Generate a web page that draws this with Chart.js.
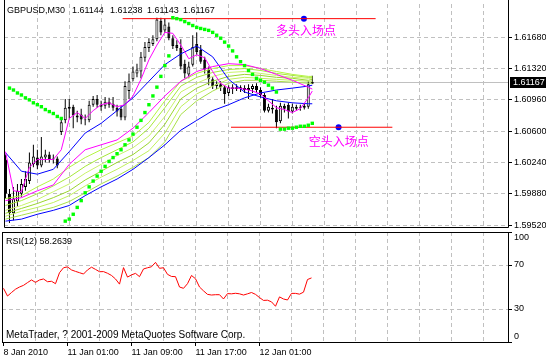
<!DOCTYPE html>
<html lang="en">
<head>
    <meta charset="UTF-8">
    <title>GBPUSD M30</title>
    <script src="https://cdn.jsdelivr.net/npm/chart.js@4.4.0/dist/chart.umd.min.js"></script>
    <style>
        html, body { margin: 0; padding: 0; background: #fff; }
        #wrap { position: relative; width: 546px; height: 360px; overflow: hidden; }
        #main { position: absolute; left: 0; top: 0; }
        #rsi { position: absolute; left: 0; top: 230px; }
    </style>
</head>
<body>
<div id="wrap">
    <canvas id="main" width="546" height="231"></canvas>
    <canvas id="rsi" width="546" height="130"></canvas>
</div>
<script>
// ---- price bars (M30), bar 0 = 8 Jan 2010 ----
const opens = [1.60274, 1.59880, 1.59655, 1.59790, 1.59880, 1.59959, 1.60026, 1.60218, 1.60296, 1.60206,
    1.60296, 1.60330, 1.60274, 1.60285, 1.60589, 1.60724, 1.60859, 1.60881, 1.60780, 1.60791,
    1.60735, 1.60724, 1.60904, 1.60971, 1.60904, 1.60893, 1.60938, 1.60915, 1.60870, 1.60859,
    1.60758, 1.61061, 1.61196, 1.61264, 1.61286, 1.61444, 1.61556, 1.61601, 1.61658, 1.61871,
    1.61759, 1.61804, 1.61669, 1.61590, 1.61556, 1.61376, 1.61253, 1.61365, 1.61601, 1.61534,
    1.61421, 1.61309, 1.61196, 1.61118, 1.61140, 1.61106, 1.61039, 1.61106, 1.61084, 1.61106,
    1.61095, 1.61073, 1.61084, 1.61118, 1.61073, 1.61016, 1.60836, 1.60870, 1.60848, 1.60713,
    1.60893, 1.60904, 1.60825, 1.60859, 1.60881, 1.60870, 1.60881, 1.61144];
const highs = [1.60330, 1.59936, 1.59959, 1.59993, 1.60049, 1.60139, 1.60353, 1.60443, 1.60386, 1.60533,
    1.60386, 1.60364, 1.60330, 1.60308, 1.60746, 1.60971, 1.60971, 1.60904, 1.60836, 1.60859,
    1.60791, 1.60949, 1.61005, 1.61016, 1.60949, 1.60994, 1.60983, 1.60994, 1.60904, 1.60893,
    1.61174, 1.61264, 1.61343, 1.61376, 1.61511, 1.61624, 1.61669, 1.61703, 1.61905, 1.61905,
    1.61894, 1.61849, 1.61703, 1.61646, 1.61658, 1.61421, 1.61399, 1.61703, 1.61736, 1.61590,
    1.61455, 1.61343, 1.61219, 1.61174, 1.61174, 1.61129, 1.61129, 1.61140, 1.61140, 1.61129,
    1.61129, 1.61140, 1.61140, 1.61151, 1.61106, 1.61039, 1.60915, 1.60971, 1.60893, 1.60926,
    1.60915, 1.60926, 1.60915, 1.60904, 1.60904, 1.60915, 1.61174, 1.61238];
const lows = [1.59824, 1.59543, 1.59576, 1.59734, 1.59846, 1.59914, 1.59993, 1.60184, 1.60161, 1.60184,
    1.60240, 1.60240, 1.60229, 1.60173, 1.60555, 1.60690, 1.60746, 1.60634, 1.60701, 1.60679,
    1.60668, 1.60701, 1.60881, 1.60870, 1.60836, 1.60859, 1.60870, 1.60836, 1.60769, 1.60724,
    1.60724, 1.60971, 1.61174, 1.61219, 1.61208, 1.61399, 1.61511, 1.61579, 1.61635, 1.61703,
    1.61736, 1.61646, 1.61545, 1.61523, 1.61309, 1.61208, 1.61208, 1.61343, 1.61478, 1.61376,
    1.61264, 1.61129, 1.61084, 1.61084, 1.61061, 1.60915, 1.61005, 1.61028, 1.61061, 1.61050,
    1.61039, 1.60971, 1.61039, 1.61039, 1.60983, 1.60814, 1.60814, 1.60803, 1.60634, 1.60690,
    1.60814, 1.60746, 1.60803, 1.60836, 1.60836, 1.60848, 1.60859, 1.61143];
const closes = [1.59880, 1.59655, 1.59824, 1.59914, 1.59993, 1.60049, 1.60240, 1.60308, 1.60206, 1.60308,
    1.60330, 1.60274, 1.60285, 1.60206, 1.60701, 1.60870, 1.60881, 1.60780, 1.60758, 1.60735,
    1.60724, 1.60904, 1.60971, 1.60904, 1.60881, 1.60938, 1.60904, 1.60870, 1.60825, 1.60758,
    1.61118, 1.61174, 1.61286, 1.61309, 1.61455, 1.61568, 1.61624, 1.61658, 1.61883, 1.61736,
    1.61826, 1.61669, 1.61579, 1.61556, 1.61343, 1.61264, 1.61343, 1.61568, 1.61511, 1.61399,
    1.61309, 1.61196, 1.61118, 1.61140, 1.61106, 1.61028, 1.61106, 1.61084, 1.61106, 1.61084,
    1.61073, 1.61095, 1.61118, 1.61073, 1.61016, 1.60836, 1.60881, 1.60848, 1.60701, 1.60893,
    1.60859, 1.60825, 1.60881, 1.60881, 1.60870, 1.60893, 1.61140, 1.61167];

// parabolic SAR, one per bar
const sar = [null,
    1.61095, 1.61073, 1.61039, 1.61016, 1.60983, 1.60960, 1.60926, 1.60904, 1.60881, 1.60848,
    1.60825, 1.60803, 1.60769, 1.60746,
    1.59565, 1.59588, 1.59644, 1.59723, 1.59801, 1.59891, 1.59959, 1.60026, 1.60083, 1.60139,
    1.60195, 1.60251, 1.60296, 1.60341, 1.60386, 1.60443, 1.60499, 1.60566, 1.60645, 1.60724,
    1.60814, 1.60904, 1.61005, 1.61106, 1.61230, 1.61354, 1.61466,
    1.61905, 1.61894, 1.61883, 1.61860, 1.61838, 1.61815, 1.61793, 1.61781, 1.61770, 1.61759,
    1.61736, 1.61703, 1.61669, 1.61624, 1.61579, 1.61523, 1.61455, 1.61399, 1.61354, 1.61298,
    1.61253, 1.61208, 1.61185, 1.61163, 1.61129, 1.61095, 1.61050,
    1.60623, 1.60623, 1.60634, 1.60634, 1.60645, 1.60656, 1.60656, 1.60668, 1.60690];

// moving averages, read every 2nd / 4th bar
const fastBars = [0, 2, 4, 6, 8, 10, 12, 14, 16, 18, 20, 22, 24, 26, 28, 30, 32, 34, 36, 38,
    40, 42, 44, 46, 48, 50, 52, 54, 56, 58, 60, 62, 64, 66, 68, 70, 72, 74, 76, 77];
const maFast = [1.60364, 1.59914, 1.59903, 1.60184, 1.60274, 1.60274, 1.60274, 1.60386, 1.60746, 1.60814,
    1.60746, 1.60836, 1.60904, 1.60926, 1.60881, 1.60904, 1.61005, 1.61196, 1.61421, 1.61590,
    1.61736, 1.61725, 1.61590, 1.61433, 1.61478, 1.61444, 1.61286, 1.61151, 1.61095, 1.61095,
    1.61084, 1.61061, 1.61028, 1.60949, 1.60870, 1.60848, 1.60814, 1.60859, 1.60983, 1.61061];
const slowBars = [0, 4, 8, 12, 16, 20, 24, 28, 32, 36, 40, 44, 48, 52, 56, 60, 64, 68, 72, 76, 77];
const maSlow = [1.59801, 1.59835, 1.59914, 1.59981, 1.60218, 1.60386, 1.60443, 1.60499, 1.60634, 1.60814,
    1.61005, 1.61174, 1.61286, 1.61343, 1.61376, 1.61365, 1.61320, 1.61253, 1.61185, 1.61106, 1.61084];
const blueFast = [1.60353, 1.60139, 1.60105, 1.60161, 1.60364, 1.60578, 1.60690, 1.60836, 1.60983, 1.61174,
    1.61365, 1.61489, 1.61579, 1.61455, 1.61196, 1.61050, 1.60994, 1.60949, 1.60926, 1.60915, 1.60915];
const blueSlow = [1.59565, 1.59588, 1.59644, 1.59689, 1.59745, 1.59858, 1.59959, 1.60049, 1.60161, 1.60296,
    1.60443, 1.60611, 1.60724, 1.60836, 1.60904, 1.60983, 1.61039, 1.61073, 1.61095, 1.61118, 1.61129];
const fan1 = [1.59824, 1.59858, 1.59959, 1.60049, 1.60184, 1.60296, 1.60386, 1.60465, 1.60544, 1.60701,
    1.60949, 1.61174, 1.61264, 1.61320, 1.61354, 1.61354, 1.61320, 1.61286, 1.61253, 1.61230, 1.61230];
const fan2 = [1.59745, 1.59801, 1.59880, 1.59970, 1.60071, 1.60195, 1.60296, 1.60386, 1.60476, 1.60634,
    1.60870, 1.61118, 1.61219, 1.61275, 1.61309, 1.61320, 1.61298, 1.61264, 1.61241, 1.61219, 1.61219];
const fan3 = [1.59689, 1.59745, 1.59813, 1.59903, 1.59993, 1.60116, 1.60218, 1.60319, 1.60409, 1.60544,
    1.60769, 1.61050, 1.61151, 1.61230, 1.61275, 1.61286, 1.61264, 1.61241, 1.61219, 1.61208, 1.61208];
const fan4 = [1.59655, 1.59711, 1.59768, 1.59835, 1.59914, 1.60038, 1.60139, 1.60240, 1.60330, 1.60465,
    1.60679, 1.60971, 1.61095, 1.61174, 1.61230, 1.61253, 1.61241, 1.61219, 1.61208, 1.61185, 1.61196];
const fan5 = [1.59621, 1.59678, 1.59723, 1.59779, 1.59858, 1.59970, 1.60071, 1.60161, 1.60263, 1.60375,
    1.60578, 1.60881, 1.61028, 1.61118, 1.61196, 1.61219, 1.61208, 1.61196, 1.61185, 1.61174, 1.61174];
const fan6 = [1.59588, 1.59633, 1.59678, 1.59723, 1.59790, 1.59891, 1.59993, 1.60083, 1.60184, 1.60296,
    1.60476, 1.60791, 1.60949, 1.61061, 1.61151, 1.61185, 1.61185, 1.61174, 1.61163, 1.61151, 1.61151];

// RSI(12)
const rsi = [48.8, 41.8, 45, 48, 50, 51.5, 54, 56.4, 54.2, 56.4,
    57.3, 54.8, 55.2, 53, 63, 67.5, 68.3, 65.5, 64.2, 63,
    61.8, 65.5, 68, 66, 63.9, 64, 62.5, 60.5, 57.3, 52.6,
    67.6, 59, 61, 62.4, 59.4, 66.4, 67.5, 68.4, 72.4, 67,
    67.5, 61.5, 59.6, 59.4, 50, 48.8, 53, 60.5, 57.5, 50,
    46.5, 43.3, 42.7, 43, 43, 39.1, 44, 43.8, 44.3, 43.8,
    42.7, 43.8, 45, 43.3, 40.4, 37.8, 38, 36.5, 32.5, 41,
    39.1, 38.2, 44.2, 44.2, 43.5, 45.3, 56.8, 58.2639];

// entry marks drawn on the chart
const longEntry = 1.61894, longLine = [29.4, 92.9], longDot = 74.9;
const shortEntry = 1.60645, shortLine = [56.6, 97.1], shortDot = 83.6;
const longText = '多头入场点', longTextAt = [67.9, 1.61764];
const shortText = '空头入场点', shortTextAt = [76.1, 1.60476];

// axes
const priceTicks = [1.5952, 1.5988, 1.6024, 1.6060, 1.6096, 1.6132, 1.6168];
const rsiTicks = [0, 30, 70, 100];
const gridBars = [8, 16, 24, 32, 40, 48, 56, 64, 72, 80, 88, 96, 104, 112, 120];
const timeTicks = [0, 16, 32, 48, 64];
const timeLabels = ['8 Jan 2010', '11 Jan 01:00', '11 Jan 09:00', '11 Jan 17:00', '12 Jan 01:00'];

const FONT = '"Liberation Sans", Arial, sans-serif';
Chart.defaults.font.family = FONT;
Chart.defaults.font.size = 9;
Chart.defaults.color = '#000';

const GRID = '#c0c0c0';
const DASH = [4, 3];
const X_MIN = -0.375, X_MAX = 126.125;

const pts = (bars, vals) => bars.map((b, k) => ({x: b, y: vals[k]}));
const barIdx = opens.map((_, i) => i);

const lineDs = (data, color, order) => ({
    type: 'line', data: data, borderColor: color, borderWidth: 1,
    pointRadius: 0, tension: 0, order: order
});

const fanColors = ['#b4f542', '#a6e83a', '#c8f26a', '#9ad62e', '#bff05c', '#a8e048'];
const fans = [fan1, fan2, fan3, fan4, fan5, fan6];

const datasets = [
    // sar on top
    {
        type: 'line', data: barIdx.map(i => ({x: i, y: sar[i]})), showLine: false,
        pointStyle: 'rect', pointRadius: 2.4, pointBackgroundColor: '#00ff00',
        pointBorderWidth: 0, order: 0
    },
    lineDs([{x: longLine[0], y: longEntry}, {x: longLine[1], y: longEntry}], '#ff0000', 0),
    lineDs([{x: shortLine[0], y: shortEntry}, {x: shortLine[1], y: shortEntry}], '#ff0000', 0),
    {
        type: 'line', data: [{x: longDot, y: longEntry}, {x: shortDot, y: shortEntry}], showLine: false,
        pointRadius: 3, pointBackgroundColor: '#0000ff', pointBorderWidth: 0, order: 0
    },
    lineDs(pts(fastBars, maFast), '#ff00ff', 1),
    lineDs(pts(slowBars, maSlow), '#ff00ff', 1),
    lineDs(pts(slowBars, blueFast), '#0000ff', 1),
    lineDs(pts(slowBars, blueSlow), '#0000ff', 1),
    ...fans.map((f, k) => lineDs(pts(slowBars, f), fanColors[k], 2)),
    // candle bodies
    {
        type: 'bar', data: barIdx.map(i => ({x: i, y: [opens[i], closes[i]]})),
        barThickness: 3, grouped: false, borderSkipped: false, inflateAmount: 0,
        backgroundColor: barIdx.map(i => closes[i] >= opens[i] ? '#ffffff' : '#000000'),
        borderColor: '#000', borderWidth: 1, order: 3
    },
    // wicks
    {
        type: 'bar', data: barIdx.map(i => ({x: i, y: [lows[i], highs[i]]})),
        barThickness: 1, grouped: false, borderSkipped: false, inflateAmount: 0,
        backgroundColor: '#000', borderWidth: 0, order: 4
    }
];

const mainDecor = {
    id: 'mainDecor',
    beforeDatasetsDraw(chart) {
        const {ctx, chartArea: a, scales: {y}} = chart;
        const py = Math.round(y.getPixelForValue(closes[closes.length - 1])) + 0.5;
        ctx.save();
        ctx.strokeStyle = GRID;
        ctx.lineWidth = 1;
        ctx.beginPath();
        ctx.moveTo(a.left, py);
        ctx.lineTo(a.right, py);
        ctx.stroke();
        ctx.restore();
    },
    afterDraw(chart) {
        const {ctx, chartArea: a, scales: {x, y}} = chart;
        const n = closes.length - 1;
        ctx.save();
        // frame
        ctx.strokeStyle = '#000';
        ctx.lineWidth = 1;
        ctx.beginPath();
        ctx.moveTo(a.left + 0.5, 0);
        ctx.lineTo(a.left + 0.5, a.bottom + 0.5);
        ctx.lineTo(a.right + 0.5, a.bottom + 0.5);
        ctx.lineTo(a.right + 0.5, 0);
        ctx.stroke();

        // header
        ctx.fillStyle = '#000';
        ctx.font = '9px ' + FONT;
        ctx.textBaseline = 'middle';
        ctx.fillText('GBPUSD,M30', 7, 11);
        [opens[n], highs[n], lows[n], closes[n]].forEach((v, k) => {
            ctx.fillText(v.toFixed(5), [72, 110, 147, 183][k], 11);
        });

        // entry labels
        ctx.fillStyle = '#ff00ff';
        ctx.font = '12px "Noto Sans CJK SC", sans-serif';
        ctx.fillText(longText, x.getPixelForValue(longTextAt[0]), y.getPixelForValue(longTextAt[1]));
        ctx.fillText(shortText, x.getPixelForValue(shortTextAt[0]), y.getPixelForValue(shortTextAt[1]));

        // last price box
        const py = Math.round(y.getPixelForValue(closes[n]));
        ctx.fillStyle = '#000';
        ctx.fillRect(a.right + 2, py - 5, 40, 11);
        ctx.fillStyle = '#fff';
        ctx.font = '9px ' + FONT;
        ctx.fillText(closes[n].toFixed(5), a.right + 5, py + 0.5);
        ctx.restore();
    }
};

new Chart(document.getElementById('main'), {
    type: 'bar',
    data: {datasets: datasets},
    options: {
        responsive: false,
        animation: false,
        events: [],
        layout: {padding: {left: 2, top: 1, right: 0, bottom: 2}},
        plugins: {legend: {display: false}, tooltip: {enabled: false}},
        scales: {
            x: {
                type: 'linear', min: X_MIN, max: X_MAX, offset: false,
                afterBuildTicks: s => { s.ticks = gridBars.map(v => ({value: v})); },
                afterFit: s => { s.height = 0; s.paddingLeft = 0; s.paddingRight = 0; },
                ticks: {display: false},
                grid: {color: GRID, drawTicks: false, offset: false, borderDash: DASH},
                border: {display: false, dash: DASH}
            },
            y: {
                type: 'linear', position: 'right', min: 1.594975, max: 1.620625,
                afterBuildTicks: s => { s.ticks = priceTicks.map(v => ({value: v})); },
                afterFit: s => { s.width = 38; s.paddingTop = 0; s.paddingBottom = 0; },
                ticks: {padding: 2, color: '#000', callback: v => v.toFixed(5)},
                grid: {color: GRID, drawTicks: true, tickLength: 4, tickColor: '#000', borderDash: DASH},
                border: {display: false, dash: DASH}
            }
        }
    },
    plugins: [mainDecor]
});

// ---- RSI window ----
const rsiDecor = {
    id: 'rsiDecor',
    afterDraw(chart) {
        const {ctx, chartArea: a} = chart;
        ctx.save();
        ctx.strokeStyle = '#000';
        ctx.lineWidth = 1;
        ctx.strokeRect(a.left + 0.5, a.top + 0.5, a.right - a.left, a.bottom - a.top);
        ctx.fillStyle = '#000';
        ctx.font = '9px ' + FONT;
        ctx.textBaseline = 'middle';
        ctx.fillText('RSI(12) ' + rsi[rsi.length - 1].toFixed(4), 6, 12);
        ctx.font = '10px ' + FONT;
        ctx.fillText('MetaTrader, ? 2001-2009 MetaQuotes Software Corp.', 6, 105);
        ctx.restore();
    }
};

new Chart(document.getElementById('rsi'), {
    type: 'line',
    data: {
        datasets: [{
            data: barIdx.map(i => ({x: i, y: rsi[i]})),
            borderColor: '#ff0000', borderWidth: 1, pointRadius: 0, tension: 0
        }]
    },
    options: {
        responsive: false,
        animation: false,
        events: [],
        layout: {padding: {left: 2, top: 2, right: 0, bottom: 0}},
        plugins: {legend: {display: false}, tooltip: {enabled: false}},
        scales: {
            x: {
                type: 'linear', min: X_MIN, max: X_MAX, offset: false,
                afterBuildTicks: s => { s.ticks = [0, ...gridBars].map(v => ({value: v})); },
                afterFit: s => { s.height = 18; s.paddingLeft = 0; s.paddingRight = 0; },
                ticks: {
                    align: 'start', padding: 1, autoSkip: false, maxRotation: 0, minRotation: 0,
                    color: '#000',
                    callback: v => { const k = timeTicks.indexOf(v); return k >= 0 ? timeLabels[k] : ''; }
                },
                grid: {
                    color: c => (c.tick && c.tick.value === 0) ? 'rgba(0,0,0,0)' : GRID,
                    tickColor: c => (c.tick && timeTicks.includes(c.tick.value)) ? '#000' : 'rgba(0,0,0,0)',
                    drawTicks: true, tickLength: 4, offset: false, borderDash: DASH
                },
                border: {display: false, dash: DASH}
            },
            y: {
                type: 'linear', position: 'right', min: 0, max: 100,
                afterBuildTicks: s => { s.ticks = rsiTicks.map(v => ({value: v})); },
                afterFit: s => { s.width = 38; s.paddingTop = 0; s.paddingBottom = 0; },
                ticks: {
                    padding: 2, color: '#000',
                    callback: v => v === 100 ? ['', '100'] : (v === 0 ? ['0', ''] : String(v))
                },
                grid: {
                    color: c => (c.tick && (c.tick.value === 30 || c.tick.value === 70)) ? GRID : 'rgba(0,0,0,0)',
                    drawTicks: true, tickLength: 4, tickColor: '#000', borderDash: DASH
                },
                border: {display: false, dash: DASH}
            }
        }
    },
    plugins: [rsiDecor]
});
</script>
</body>
</html>
